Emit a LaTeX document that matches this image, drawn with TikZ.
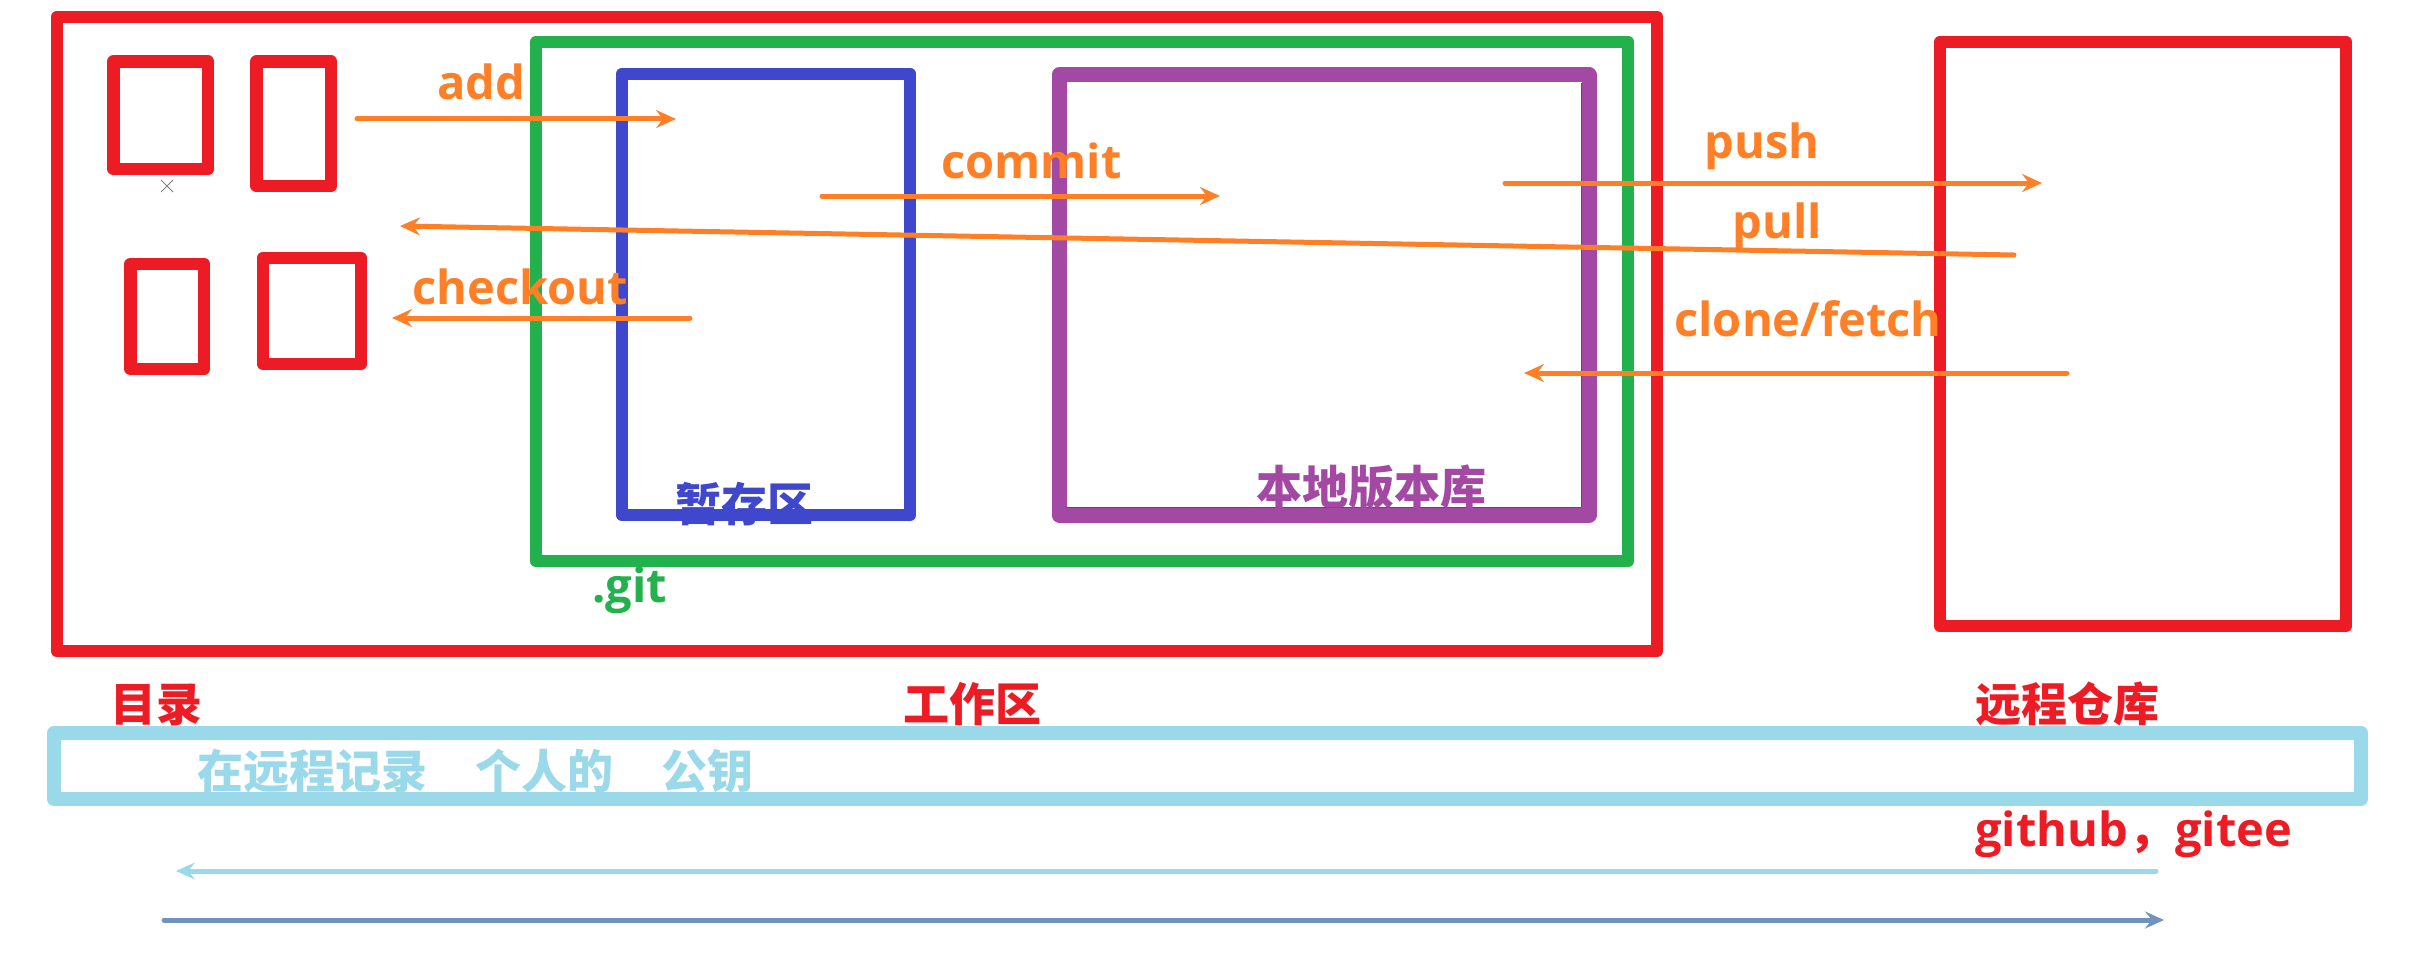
\documentclass[tikz,border=0pt]{standalone}
\usepackage{fontspec}
\usetikzlibrary{arrows.meta,fit}
\setmainfont{Open Sans}
\newfontfamily\lat{Open Sans}
\newfontfamily\cjk{Noto Sans CJK SC}
\definecolor{pred}{HTML}{ED1C24}
\definecolor{pgreen}{HTML}{22B14C}
\definecolor{pblue}{HTML}{3F48CC}
\definecolor{ppurple}{HTML}{A349A4}
\definecolor{porange}{HTML}{FF7F27}
\definecolor{plblue}{HTML}{99D9EA}
\definecolor{psteel}{HTML}{7092BE}
\begin{document}
\begin{tikzpicture}[x=0.5pt,y=-0.5pt,line join=round,
  anybox/.style={draw, inner sep=0pt, outer sep=0pt, line width=6.3pt},
  rbox/.style={anybox, draw=pred},
  gbox/.style={anybox, draw=pgreen},
  bbox/.style={anybox, draw=pblue},
  pbox/.style={anybox, draw=ppurple, line width=7.5pt},
  lbbox/.style={anybox, draw=plblue, line width=7pt},
  oarrow/.style={draw=porange, line width=2.5pt, line cap=round, -{Stealth[length=10pt,width=9pt,inset=3.5pt]}},
  larrow/.style={draw=plblue, line width=2.5pt, line cap=round, -{Stealth[length=9.5pt,width=8.5pt,inset=3.5pt]}},
  sarrow/.style={draw=psteel, line width=2.5pt, line cap=round, -{Stealth[length=9.5pt,width=8.5pt,inset=3.5pt]}},
  ltxt/.style={anchor=base west, inner sep=0pt, font=\lat\bfseries\fontsize{23.5pt}{23.5pt}\selectfont},
  ctxt/.style={anchor=base west, inner sep=0pt, font=\cjk\bfseries\fontsize{23pt}{23pt}\selectfont}]
\useasboundingbox (0,0) rectangle (2435,979);

% boxes
\node[rbox, fit={(57,17) (1657,651)}] (work) {};
\node[rbox, fit={(113.5,61.5) (208,169)}] (f1) {};
\node[rbox, fit={(256.5,61.5) (331,186)}] (f2) {};
\node[rbox, fit={(130.5,264) (204,369)}] (f3) {};
\node[rbox, fit={(263,258) (361,364)}] (f4) {};
\node[gbox, fit={(536,42) (1628,561)}] (git) {};
\node[bbox, fit={(622,74) (910,515)}] (stage) {};
\node[pbox, fit={(1059,75) (1589,515)}] (local) {};
\node[rbox, fit={(1940,42) (2346,626)}] (remote) {};
\node[lbbox, fit={(54,733) (2361,799)}] (keybar) {};

% thin blue remnant inside purple box
\draw[pblue, line width=0.8pt] (1066,507.5) -- (1581.5,507.5) -- (1581.5,83);
% tiny grey cross
\draw[gray, line width=0.4pt] (161,180) -- (173,192) (161,192) -- (173,180);

% arrow end points
\coordinate (addS) at (357,119);   \coordinate (addE) at (676,119);
\coordinate (comS) at (822,196);   \coordinate (comE) at (1220,196);
\coordinate (pushS) at (1505,183); \coordinate (pushE) at (2042,183);
\coordinate (pullS) at (2014,255); \coordinate (pullE) at (400,226);
\coordinate (coS) at (690,318);    \coordinate (coE) at (392,318);
\coordinate (cfS) at (2067,373);   \coordinate (cfE) at (1524,373);
\coordinate (lbS) at (2156,871);   \coordinate (lbE) at (176,871);
\coordinate (stS) at (164,920);    \coordinate (stE) at (2164,920);

\draw[oarrow] (addS) -- (addE);
\draw[oarrow] (comS) -- (comE);
\draw[oarrow] (pushS) -- (pushE);
\draw[oarrow] (pullS) -- (pullE);
\draw[oarrow] (coS) -- (coE);
\draw[oarrow] (cfS) -- (cfE);
\draw[larrow] (lbS) -- (lbE);
\draw[sarrow] (stS) -- (stE);

% labels
\node[ltxt, text=porange] (tadd) at (437,100) {add};
\node[ltxt, text=porange] (tcom) at (941,178) {commit};
\node[ltxt, text=porange] (tpush) at (1704,158) {push};
\node[ltxt, text=porange] (tpull) at (1732,238) {pull};
\node[ltxt, text=porange] (tco) at (412,304) {checkout};
\node[ltxt, text=porange] (tcf) at (1674,336) {clone/fetch};
\node[ltxt, text=pgreen] (tgit) at (592,602) {.git};
\node[ctxt, text=pblue] (tstage) at (675,521) {暂存区};
\node[ctxt, text=ppurple] (tlocal) at (1256,504) {本地版本库};
\node[ctxt, text=pred] (tdir) at (110,721) {目录};
\node[ctxt, text=pred] (twork) at (903,721) {工作区};
\node[ctxt, text=pred] (tremote) at (1975,721) {远程仓库};
\node[ctxt, text=plblue] (tkey) at (197,788) {在远程记录\hspace{24pt}个人的\hspace{24pt}公钥};
\node[ltxt, text=pred] (thub) at (1975,846) {github{\cjk，}gitee};
\end{tikzpicture}
\end{document}
